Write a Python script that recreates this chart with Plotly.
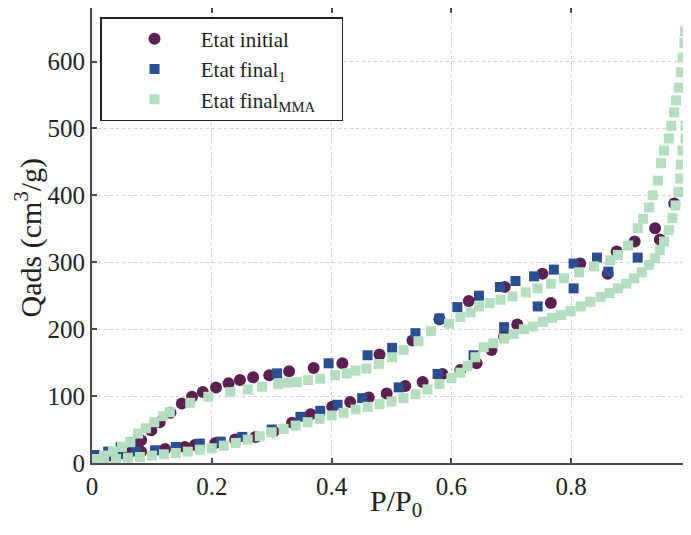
import plotly.graph_objects as go

# ---- data ----
# Etat initial (adsorption branch then desorption branch)
init_ads_x = [0.005, 0.02, 0.04, 0.06, 0.082, 0.122, 0.155, 0.172, 0.206, 0.239, 0.273, 0.303, 0.334,
              0.365, 0.401, 0.431, 0.462, 0.492, 0.523, 0.552, 0.585, 0.615, 0.642, 0.667, 0.688,
              0.710, 0.766, 0.861, 0.948, 0.972]
init_ads_y = [5, 8, 11, 14, 17, 21, 24, 27, 30, 35, 39, 47, 60,
              73, 84, 91, 98, 104, 115, 121, 133, 139, 149, 169, 189,
              207, 239, 283, 334, 388]
init_des_x = [0.940, 0.906, 0.876, 0.815, 0.752, 0.689, 0.629, 0.580, 0.535, 0.480, 0.418, 0.370,
              0.329, 0.296, 0.269, 0.247, 0.228, 0.207, 0.185, 0.167, 0.150, 0.131, 0.113, 0.099,
              0.082, 0.070]
init_des_y = [351, 331, 316, 298, 283, 263, 242, 215, 183, 162, 149, 142,
              137, 131, 128, 124, 119, 113, 106, 99, 89, 75, 61, 49,
              34, 22]

# Etat final 1
f1_ads_x = [0.005, 0.027, 0.048, 0.073, 0.105, 0.140, 0.180, 0.215, 0.251, 0.300, 0.348, 0.381,
            0.410, 0.451, 0.512, 0.577, 0.637, 0.688, 0.744, 0.804, 0.862, 0.911]
f1_ads_y = [8, 10, 13, 17, 19, 24, 29, 32, 39, 50, 69, 78,
            87, 97, 113, 133, 161, 203, 234, 261, 286, 307]
f1_des_x = [0.843, 0.804, 0.771, 0.738, 0.707, 0.681, 0.646, 0.610, 0.580, 0.540, 0.501, 0.460,
            0.395, 0.309, 0.065, 0.048, 0.027, 0.005]
f1_des_y = [307, 298, 289, 279, 272, 263, 250, 233, 216, 194, 172, 161,
            149, 134, 31, 24, 17, 12]

# Etat final MMA
mma_ads_x = [0.0, 0.02, 0.04, 0.06, 0.08, 0.10, 0.12, 0.14, 0.16, 0.18, 0.20, 0.22, 0.24, 0.26,
             0.28, 0.30, 0.32, 0.34, 0.36, 0.38, 0.40, 0.42, 0.44, 0.46, 0.48, 0.50, 0.52, 0.54,
             0.56, 0.58, 0.60, 0.615, 0.627, 0.640, 0.654, 0.670, 0.688, 0.704, 0.721, 0.736,
             0.753, 0.768, 0.783, 0.799, 0.816, 0.832, 0.849, 0.864, 0.878, 0.892, 0.905, 0.918,
             0.930, 0.940, 0.948, 0.955, 0.963, 0.969, 0.974, 0.979, 0.982, 0.983, 0.986, 0.991,
             0.991, 0.995, 0.995, 0.997, 0.997, 0.997, 0.997, 0.997]
mma_ads_y = [3, 5, 6, 8, 9, 11, 13, 15, 17, 20, 22, 26, 30, 35,
             40, 46, 51, 56, 61, 66, 71, 75, 80, 84, 88, 92, 97, 103,
             110, 118, 127, 135, 145, 158, 173, 179, 186, 193, 200, 204,
             211, 217, 221, 227, 234, 241, 248, 254, 261, 268, 276, 285,
             296, 306, 318, 331, 348, 366, 385, 405, 425, 446, 467, 485,
             504, 522, 542, 564, 585, 606, 627, 645]
mma_des_x = [0.990, 0.989, 0.986, 0.983, 0.980, 0.975, 0.972, 0.967, 0.963, 0.955, 0.950, 0.945,
             0.936, 0.930, 0.920, 0.911, 0.895, 0.878, 0.865, 0.838, 0.813, 0.788, 0.766, 0.744,
             0.724, 0.702, 0.682, 0.664, 0.646, 0.632, 0.615, 0.596, 0.566, 0.545, 0.520, 0.501,
             0.479, 0.458, 0.440, 0.425, 0.406, 0.381, 0.361, 0.342, 0.326, 0.311, 0.284, 0.260,
             0.231, 0.194, 0.164, 0.130, 0.119, 0.104, 0.090, 0.077, 0.064, 0.050, 0.035, 0.020,
             0.008]
mma_des_y = [645, 628, 606, 584, 561, 542, 524, 504, 485, 467, 448, 422,
             400, 382, 365, 351, 325, 311, 303, 294, 285, 276, 268, 261,
             255, 249, 244, 239, 234, 225, 218, 208, 197, 182, 169, 158,
             148, 141, 138, 134, 131, 126, 124, 121, 120, 118, 114, 110,
             106, 99, 90, 76, 70, 61, 52, 44, 31, 24, 17, 11,
             6]

x_ticks = [0, 0.2, 0.4, 0.6, 0.8, 1]
x_tick_labels = ["0", "0.2", "0.4", "0.6", "0.8", "1"]
y_ticks = [0, 100, 200, 300, 400, 500, 600]
x_title = "P/P<sub>0</sub>"
y_title = "Qads (cm<sup>3</sup>/g)"

NB = "\u00a0"
series = [
    (NB * 5 + "Etat initial", init_ads_x + init_des_x, init_ads_y + init_des_y, "#5a2150", "circle", 12),
    (NB * 5 + "Etat final<sub>1</sub>", f1_ads_x + f1_des_x, f1_ads_y + f1_des_y, "#2a4e8e", "square", 10),
    (NB * 5 + "Etat final<sub>MMA</sub>" + NB * 4, mma_ads_x + mma_des_x, mma_ads_y + mma_des_y,
     "#b5dec0", "square", 10),
]

FONT = "Liberation Serif, Times New Roman, serif"

fig = go.Figure()
for name, xs, ys, color, symbol, size in series:
    fig.add_trace(go.Scatter(
        x=xs, y=ys, mode="markers", name=name,
        marker=dict(color=color, symbol=symbol, size=size, line=dict(width=0)),
    ))

axis_common = dict(
    showline=True, linecolor="#4a4a4a", linewidth=2, mirror="ticks",
    ticks="inside", ticklen=5, tickcolor="#4a4a4a", tickwidth=1.5,
    showgrid=True, gridcolor="#cfcfcf", griddash="dot", gridwidth=1,
    zeroline=False,
    tickfont=dict(family=FONT, size=25, color="#222"),
)

fig.update_xaxes(range=[0, 1], tickvals=x_ticks, ticktext=x_tick_labels,
                 ticklabeloverflow="allow", **axis_common)
fig.update_yaxes(range=[0, 680], tickvals=y_ticks, **axis_common)

fig.add_annotation(text=x_title, xref="paper", yref="paper", x=0.5075, y=0,
                   xanchor="center", yanchor="top", yshift=-19, showarrow=False,
                   font=dict(family=FONT, size=30, color="#222"))
fig.add_annotation(text=y_title, xref="paper", yref="paper", x=-0.106, y=0.4945,
                   xanchor="center", yanchor="middle", textangle=-90, showarrow=False,
                   font=dict(family=FONT, size=30, color="#222"))

fig.update_layout(
    width=683, height=527,
    margin=dict(l=84, r=0, t=0, b=72, autoexpand=False),
    paper_bgcolor="white", plot_bgcolor="white",
    showlegend=True,
    legend=dict(
        x=0.0134, y=0.980, xanchor="left", yanchor="top",
        bgcolor="white", bordercolor="#222", borderwidth=1.5,
        font=dict(family=FONT, size=21, color="#222"),
        indentation=33,
    ),
)

fig.write_html("out.html")
